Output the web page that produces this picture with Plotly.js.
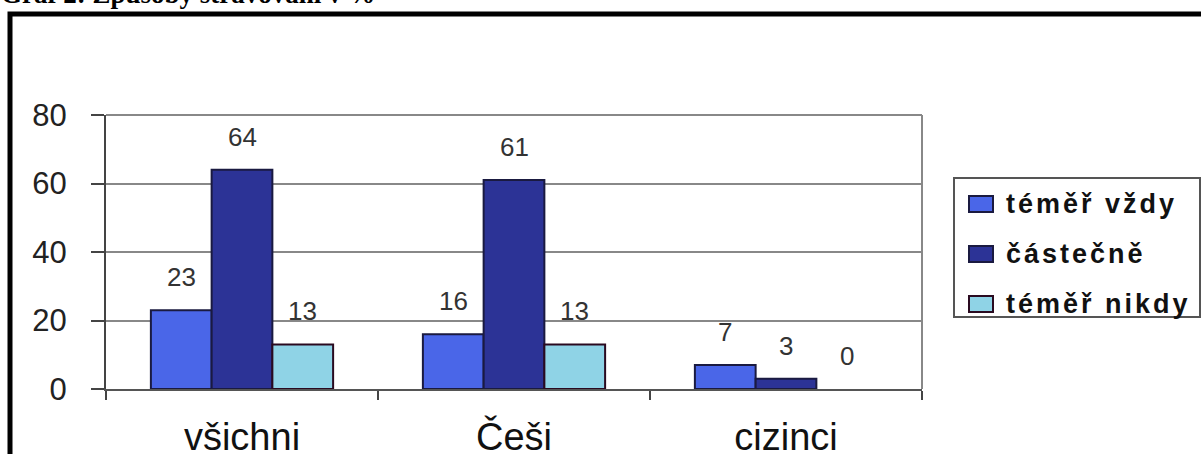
<!DOCTYPE html>
<html>
<head>
<meta charset="utf-8">
<script src="https://cdn.plot.ly/plotly-3.0.1.min.js"></script>
<style>
html,body{margin:0;padding:0;background:#fff;}
#chart{width:1201px;height:454px;}
</style>
</head>
<body>
<div id="chart"></div>
<script>
// ---- data ----
const categories = ["všichni", "Češi", "cizinci"];
const seriesNames = ["téměř vždy", "částečně", "téměř nikdy"];
const vzdy = [23, 16, 7];
const castecne = [64, 61, 3];
const nikdy = [13, 13, 0];
const yTicks = [0, 20, 40, 60, 80];
const chartTitle = "Graf 2: Způsoby stravování v %";

const seriesValues = [vzdy, castecne, nikdy];
const colors = ["#4a66e8", "#2c3396", "#8fd3e6"];
const edgeColors = ["#1a1a40", "#1a1a40", "#2a0a20"];

// ---- geometry ----
const W = 1201, H = 454;
const M = {l: 106, r: 279, t: 115, b: 65};
const PW = W - M.l - M.r, PH = H - M.t - M.b;
const px = x => (x - M.l) / PW;
const py = y => (H - M.b - y) / PH;
const bargap = 0.33;
const barPx = PW / categories.length * (1 - bargap) / seriesNames.length;
const FONT = "Liberation Sans, Arial, sans-serif";

const traces = seriesValues.map((vals, i) => ({
  type: "bar",
  name: seriesNames[i],
  x: categories,
  y: vals,
  marker: {color: colors[i], line: {color: edgeColors[i], width: vals.map(v => v === 0 ? 0 : 2)}},
  showlegend: false,
  hoverinfo: "skip"
}));

const annotations = [];
// data labels
seriesValues.forEach((vals, i) => {
  vals.forEach((v, j) => {
    annotations.push({
      x: categories[j], y: v, xref: "x", yref: "y",
      text: String(v), showarrow: false,
      xshift: (i - 1) * barPx, yshift: 33,
      yanchor: "middle", xanchor: "center",
      font: {family: FONT, size: 26, color: "#333"}
    });
  });
});

// cut-off title at the very top
annotations.push({
  x: px(0), y: py(10), xref: "paper", yref: "paper",
  xanchor: "left", yanchor: "bottom", showarrow: false, borderpad: 0,
  text: chartTitle,
  font: {family: "Liberation Serif, Times New Roman, serif", size: 27, color: "#000", weight: "bold"}
});

const shapes = [
  // outer frame
  {type: "rect", xref: "paper", yref: "paper", x0: px(10), x1: px(1260), y0: py(520), y1: py(14),
   line: {color: "#000", width: 5}, fillcolor: "rgba(0,0,0,0)", layer: "below"},
  // plot area top/right border
  {type: "line", xref: "paper", yref: "paper", x0: 1, x1: 1, y0: 0, y1: 1, line: {color: "#888", width: 2}},
  {type: "line", xref: "paper", yref: "paper", x0: 0, x1: 1, y0: 1, y1: 1, line: {color: "#888", width: 2}},
  // legend box
  {type: "rect", xref: "paper", yref: "paper", x0: px(954), x1: px(1200), y0: py(317), y1: py(178),
   line: {color: "#555", width: 2}, fillcolor: "#fff"}
];
const rowCenters = [204, 254, 304];
seriesNames.forEach((name, i) => {
  const c = rowCenters[i];
  shapes.push({type: "rect", xref: "paper", yref: "paper",
    x0: px(969), x1: px(993), y0: py(c + 8), y1: py(c - 8),
    line: {color: edgeColors[i], width: 2}, fillcolor: colors[i]});
  annotations.push({
    x: px(1004), y: py(c), xref: "paper", yref: "paper",
    xanchor: "left", yanchor: "middle", showarrow: false,
    text: '<span style="letter-spacing:3px">' + name + '</span>',
    font: {family: FONT, size: 27, color: "#111", weight: "bold"}
  });
});

const layout = {
  width: W, height: H,
  margin: M,
  paper_bgcolor: "#fff", plot_bgcolor: "#fff",
  barmode: "group", bargap: bargap, bargroupgap: 0,
  showlegend: false,
  xaxis: {
    type: "category", tickson: "boundaries",
    ticks: "outside", ticklen: 9, tickwidth: 2, tickcolor: "#444",
    showline: true, linecolor: "#555", linewidth: 2,
    showgrid: false, zeroline: false,
    ticklabelstandoff: 13,
    tickfont: {family: FONT, size: 38, color: "#111"}
  },
  yaxis: {
    range: [0, 80], tickvals: yTicks,
    ticks: "outside", ticklen: 13, tickwidth: 2, tickcolor: "#444",
    showline: true, linecolor: "#444", linewidth: 2,
    showgrid: true, gridcolor: "#888", gridwidth: 2, zeroline: false,
    ticklabelstandoff: 18,
    tickfont: {family: FONT, size: 31, color: "#222"}
  },
  annotations: annotations,
  shapes: shapes
};

Plotly.newPlot("chart", traces, layout, {displayModeBar: false, staticPlot: true});
</script>
</body>
</html>
